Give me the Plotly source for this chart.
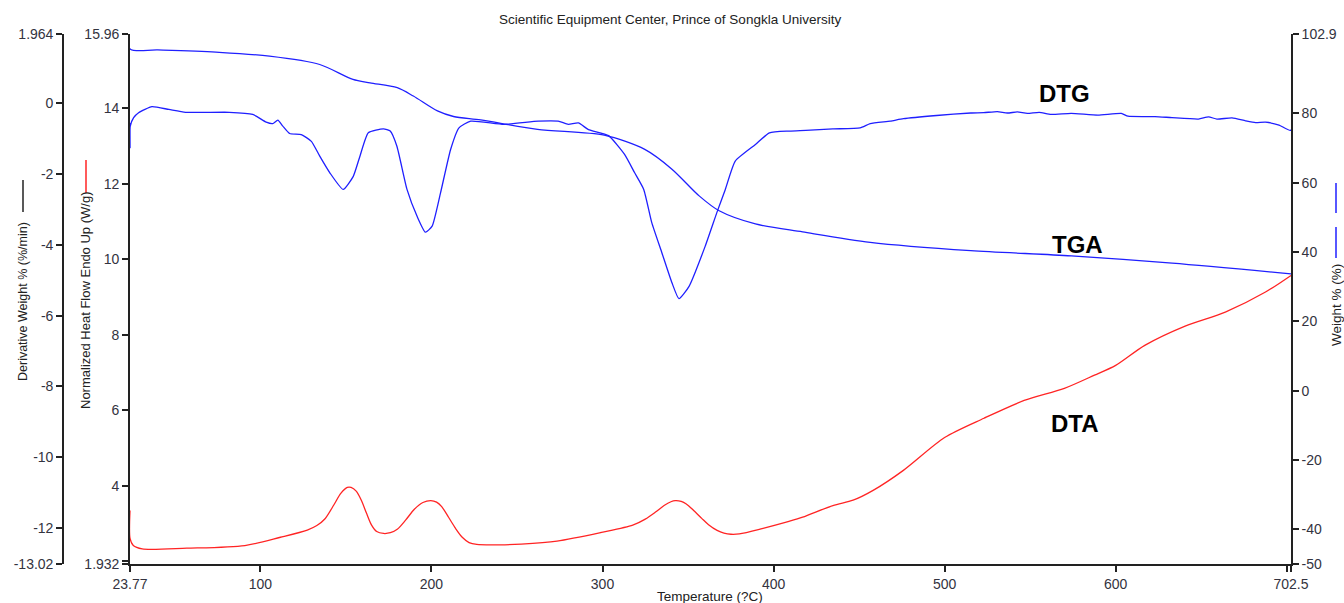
import plotly.graph_objects as go

# ---- data -------------------------------------------------------------
# TGA: weight % vs temperature
tga_temp = [23.77, 23.8, 40, 75.9, 105.3, 134.7, 154.1, 164.1, 180, 189.4, 203.5,
            212.9, 228.8, 262, 301, 324.7, 340.6, 356.5, 368.2, 389.4, 417,
            456.5, 515.3, 574.1, 633, 702.5]
tga_weight = [106, 98.6, 98.3, 97.6, 96.5, 94.1, 89.8, 88.8, 87.4, 85.0, 80.7,
              79.1, 78.1, 75.4, 73.7, 69.6, 63.9, 56.2, 51.9, 48.1, 45.8,
              42.8, 40.4, 38.9, 36.8, 33.7]

# DTG: derivative weight %/min vs temperature
dtg_temp = [23.77, 23.8, 23.9, 25.9, 28.8, 36.6, 46.5, 56.3, 81.8, 95.5, 103.4,
            107.2, 110.2, 113.1, 117.1, 123.9, 129.8, 134.7, 140.6, 148.4,
            154.3, 158.2, 163.1, 171.9, 175.9, 179.8, 185.7, 191.6, 196.5,
            200.4, 205.3, 211.2, 216.1, 222.9, 242.4, 262.4, 274.1, 280,
            285.9, 291.8, 303.5, 312.9, 318.8, 324.1, 328.8, 334.7, 340.6,
            344.7, 350.6, 360, 367.1, 371.8, 377.6, 389.4, 397.6, 409.4,
            418.8, 434.7, 450.6, 456.5, 468.2, 475.9, 495.3, 515.3, 522.9,
            530.8, 536.7, 542.5, 548.4, 555.3, 562.2, 574.0, 589.6, 603.3,
            607.2, 623.0, 632.9, 648.4, 654.3, 659.2, 668.0, 675.9, 681.8,
            687.6, 695.5, 702.4, 702.5]
dtg_deriv = [-0.55, -1.25, -0.65, -0.40, -0.26, -0.09, -0.17, -0.25, -0.25, -0.31,
             -0.53, -0.57, -0.47, -0.64, -0.85, -0.88, -1.07, -1.49, -1.96,
             -2.43, -2.06, -1.49, -0.83, -0.72, -0.78, -1.21, -2.43, -3.19,
             -3.64, -3.47, -2.53, -1.30, -0.69, -0.50, -0.59, -0.50, -0.50,
             -0.59, -0.55, -0.74, -0.91, -1.44, -1.96, -2.43, -3.37, -4.22,
             -5.07, -5.52, -5.17, -4.04, -3.05, -2.43, -1.63, -1.16, -0.83,
             -0.78, -0.76, -0.72, -0.69, -0.57, -0.50, -0.43, -0.34, -0.27,
             -0.26, -0.23, -0.27, -0.24, -0.28, -0.25, -0.31, -0.28, -0.33,
             -0.28, -0.36, -0.37, -0.40, -0.44, -0.38, -0.44, -0.41, -0.49,
             -0.54, -0.53, -0.61, -0.76, 2.5]

# DTA: normalized heat flow (W/g) vs temperature
dta_temp = [23.77, 23.8, 25.7, 30.9, 57, 90.9, 111.7, 127.4, 133, 137.8, 143,
            147, 150.8, 153, 156, 159, 162, 165, 168, 172, 176, 180,
            185, 190, 195, 199.6, 203, 206, 210, 214, 218, 222, 226.5, 240,
            252.5, 273.4, 299.5, 317.7, 325, 330.8, 336, 340, 342.5, 346,
            349, 353, 358, 362, 367, 371, 375.1, 380, 393.3, 409, 417,
            434.7, 446.5, 458.2, 475.9, 500, 523, 546.5, 570, 587.6, 600,
            617, 640.6, 664.1, 687.6, 702.5]
dta_heat = [3.35, 2.61, 2.42, 2.33, 2.35, 2.42, 2.64, 2.83, 2.95, 3.13, 3.50,
            3.80, 3.96, 3.96, 3.86, 3.62, 3.28, 2.96, 2.79, 2.74, 2.76, 2.85,
            3.10, 3.38, 3.56, 3.61, 3.57, 3.45, 3.17, 2.88, 2.64, 2.50, 2.45, 2.44,
            2.46, 2.54, 2.77, 2.96, 3.12, 3.30, 3.48, 3.58, 3.61, 3.59,
            3.52, 3.36, 3.14, 2.97, 2.82, 2.75, 2.72, 2.73, 2.87, 3.06, 3.17,
            3.48, 3.62, 3.88, 4.41, 5.28, 5.79, 6.26, 6.58, 6.93, 7.19,
            7.72, 8.23, 8.60, 9.13, 9.57]

# ---- axis ticks -------------------------------------------------------
x_ticks = [23.77, 100, 200, 300, 400, 500, 600, 700, 702.5]
x_labels = ["23.77", "100", "200", "300", "400", "500", "600", "", "702.5"]
heat_ticks = [1.932, 2, 4, 6, 8, 10, 12, 14, 15.96]
heat_labels = ["1.932", "", "4", "6", "8", "10", "12", "14", "15.96"]
deriv_ticks = [-13.02, -12, -10, -8, -6, -4, -2, 0, 1.964]
deriv_labels = ["-13.02", "-12", "-10", "-8", "-6", "-4", "-2", "0", "1.964"]
weight_ticks = [-50, -40, -20, 0, 20, 40, 60, 80, 102.9]
weight_labels = ["-50", "-40", "-20", "0", "20", "40", "60", "80", "102.9"]

W, H = 1344, 603
BLUE = "#1f1fff"
RED = "#ff2424"
AXIS = "#222222"
TXT = "#333340"
FONT = "Liberation Sans, Arial, sans-serif"

fig = go.Figure()
fig.add_trace(go.Scatter(x=dta_temp, y=dta_heat, mode="lines", yaxis="y",
                         line=dict(color=RED, width=1.3, shape="spline", smoothing=0.8)))
fig.add_trace(go.Scatter(x=dtg_temp, y=dtg_deriv, mode="lines", yaxis="y2",
                         line=dict(color=BLUE, width=1.3, shape="spline", smoothing=0.5)))
fig.add_trace(go.Scatter(x=tga_temp, y=tga_weight, mode="lines", yaxis="y3",
                         line=dict(color=BLUE, width=1.3, shape="spline", smoothing=0.8)))

x0, x1 = 130 / W, 1291 / W
y0, y1 = (H - 564) / H, (H - 34) / H

common = dict(showgrid=False, zeroline=False, showline=True, linecolor=AXIS,
              linewidth=1.6, ticks="outside", ticklen=6, tickwidth=1.5,
              tickcolor=AXIS, tickfont=dict(family=FONT, size=14, color=TXT),
              automargin=False, tickmode="array")

fig.update_layout(
    width=W, height=H, template="none",
    margin=dict(l=0, r=0, t=0, b=0, pad=0),
    paper_bgcolor="white", plot_bgcolor="white", showlegend=False,
    xaxis=dict(domain=[x0, x1], range=[23.77, 702.5], tickvals=x_ticks,
               ticktext=x_labels, anchor="y", **common),
    yaxis=dict(domain=[y0, y1], range=[1.932, 15.96], tickvals=heat_ticks,
               ticktext=heat_labels, anchor="x", side="left", **common),
    yaxis2=dict(range=[-13.02, 1.964], tickvals=deriv_ticks, ticktext=deriv_labels,
                overlaying="y", anchor="free", position=63 / W, side="left", **common),
    yaxis3=dict(range=[-50, 102.9], tickvals=weight_ticks, ticktext=weight_labels,
                overlaying="y", anchor="x", side="right", **common),
)

def px(xp, yp):
    return xp / W, (H - yp) / H

annotations = []
def label(text, xp, yp, size, angle=0, bold=False, color="#222222"):
    ax, ay = px(xp, yp)
    annotations.append(dict(text=f"<b>{text}</b>" if bold else text, x=ax, y=ay,
                            xref="paper", yref="paper", showarrow=False,
                            textangle=angle, xanchor="center", yanchor="middle",
                            font=dict(family=FONT, size=size, color=color)))

label("Scientific Equipment Center, Prince of Songkla University", 670, 20, 13.5)
label("Temperature (?C)", 710, 596, 13.5)
label("Derivative Weight % (%/min)", 23, 302, 12.5, angle=-90)
label("Normalized Heat Flow Endo Up (W/g)", 86, 301, 13, angle=-90)
label("Weight % (%)", 1336, 305, 13.5, angle=-90)
label("DTG", 1064, 94, 24, bold=True, color="black")
label("TGA", 1077, 244, 24, bold=True, color="black")
label("DTA", 1075, 423, 24, bold=True, color="black")
fig.update_layout(annotations=annotations)

# series key strokes next to the axis titles
shapes = []
def stroke(xp, ya, yb, color, dash="solid"):
    ax, a = px(xp, ya)
    _, b = px(xp, yb)
    shapes.append(dict(type="line", xref="paper", yref="paper", x0=ax, x1=ax,
                       y0=a, y1=b, line=dict(color=color, width=1.5, dash=dash)))

stroke(23, 180, 212, "#222222")
stroke(86, 160, 193, RED)
stroke(1336, 183, 213, BLUE)
stroke(1336, 227, 258, BLUE)
fig.update_layout(shapes=shapes)

fig.write_html("out.html")
